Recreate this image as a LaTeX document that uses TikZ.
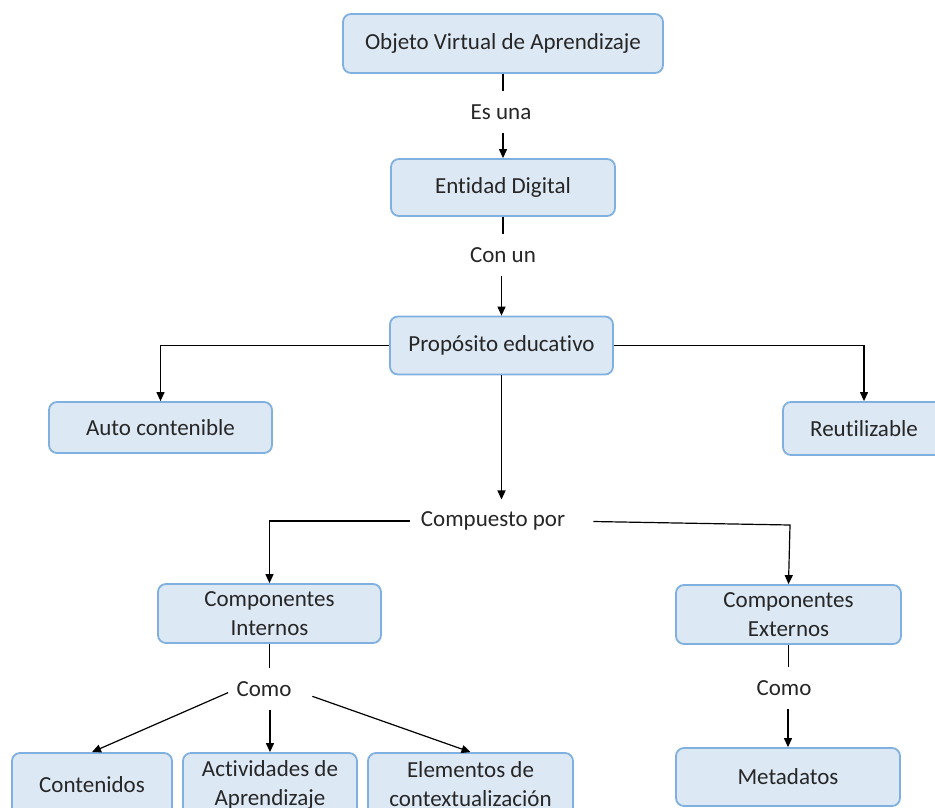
\documentclass[tikz,border=0pt]{standalone}
\usepackage{fontspec}
\setmainfont{Carlito}[Ligatures={NoCommon,NoRequired}]
\usetikzlibrary{arrows.meta}
\definecolor{boxfill}{HTML}{DDE8F5}
\definecolor{boxline}{HTML}{7FB0E0}
\definecolor{txt}{HTML}{262626}
\tikzset{
  conceptbox/.style={draw=boxline, fill=boxfill, line width=1.8pt, rounded corners=8pt,
    text=txt, align=center, inner sep=0pt, font=\fontsize{23}{29}\selectfont},
  linklabel/.style={text=txt, inner sep=0pt, minimum height=42pt, font=\fontsize{23}{29}\selectfont},
  conn/.style={draw=black, line width=1.2pt},
  arr/.style={conn, -{Triangle[length=9pt,width=8pt]}}
}
\begin{document}
\begin{tikzpicture}[x=1pt,y=-1pt]
\useasboundingbox (0,0) rectangle (935,807);
\clip (0,0) rectangle (935,807);
\fill[white] (0,0) rectangle (935,807);

% concept boxes
\node[conceptbox, minimum width=320pt, minimum height=59pt] (ova) at (503,43.5) {Objeto Virtual de Aprendizaje};
\node[conceptbox, minimum width=224pt, minimum height=57pt] (ed) at (503,187.5) {Entidad Digital};
\node[conceptbox, minimum width=223pt, minimum height=58pt] (pe) at (501.5,345.5) {Propósito educativo};
\node[conceptbox, minimum width=223pt, minimum height=51pt] (auto) at (160.5,427.5) {Auto contenible};
\node[conceptbox, minimum width=162pt, minimum height=53pt] (reu) at (864,428.5) {Reutilizable};
\node[conceptbox, minimum width=223pt, minimum height=59pt] (ci) at (269.5,613.5) {Componentes\\Internos};
\node[conceptbox, minimum width=225pt, minimum height=59pt] (ce) at (788.5,614.5) {Componentes\\Externos};
\node[conceptbox, minimum width=160pt, minimum height=63pt] (cont) at (92,784.5) {Contenidos};
\node[conceptbox, minimum width=174pt, minimum height=63pt] (act) at (270,784.5) {Actividades de\\Aprendizaje};
\node[conceptbox, minimum width=205pt, minimum height=63pt] (elem) at (470.5,784.5) {Elementos de\\contextualización};
\node[conceptbox, minimum width=224pt, minimum height=58pt] (meta) at (788,777) {Metadatos};

% linking phrases
\node[linklabel] (esuna) at (501,112) {Es una};
\node[linklabel] (conun) at (503,255) {Con un};
\node[linklabel, minimum height=0pt] (comp) at (493,521) {Compuesto por};
\node[linklabel] (como1) at (264,689) {Como};
\node[linklabel] (como2) at (784,688) {Como};
\coordinate (cebend) at (790,525);

% connectors
\draw[conn] (ova.south) -- (ova.south |- esuna.north);
\draw[arr] (ed.north |- esuna.south) -- (ed.north);
\draw[conn] (ed.south) -- (ed.south |- conun.north);
\draw[arr] (pe.north |- conun.south) -- (pe.north);
\draw[arr] (pe.west) -| (auto.north);
\draw[arr] (pe.east) -| (reu.north);
\draw[arr, shorten >=12pt] (pe.south) -- (pe.south |- comp.north);
\draw[arr, shorten <=11pt] (comp.west) -| (ci.north);
\draw[arr, shorten <=28pt] (comp.east) -- (cebend) -- (ce.north);
\draw[conn] (ci.south) -- (ci.south |- como1.north);
\draw[arr, shorten <=9pt] (como1.west) -- (cont.north);
\draw[arr] (act.north |- como1.south) -- (act.north);
\draw[arr, shorten <=22pt] (como1.east) -- (elem.north);
\draw[conn] (ce.south) -- (ce.south |- como2.north);
\draw[arr] (meta.north |- como2.south) -- (meta.north);
\end{tikzpicture}
\end{document}
